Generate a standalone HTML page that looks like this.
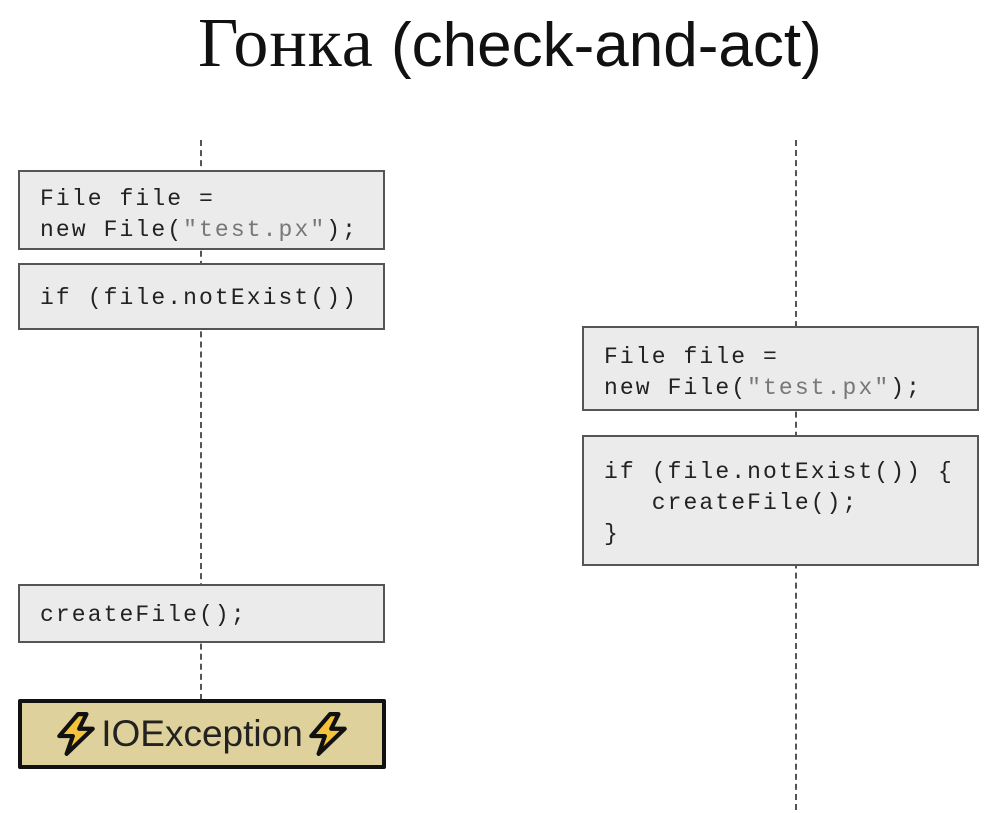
<!DOCTYPE html>
<html><head><meta charset="utf-8"><style>
body{margin:0;width:994px;height:813px;background:#fff;position:relative;overflow:hidden;font-family:"Liberation Mono",monospace}
.t{position:absolute;top:4px;left:198px;white-space:nowrap;color:#111}
.b{position:absolute;background:#ebebeb;border:2px solid #555;box-sizing:border-box;font-size:23px;letter-spacing:2.1px;line-height:31px;padding:12px 0 0 20px;white-space:pre;color:#222}
.s{color:#777}
.d{position:absolute;width:0;border-left:2px dashed #555}
.e{position:absolute;left:18px;top:699px;width:368px;height:70px;box-sizing:border-box;background:#dfd19b;border:4px solid #111;border-radius:2px;font-family:"Liberation Sans",sans-serif;font-size:37px;color:#222;display:flex;align-items:center;justify-content:center;gap:2px}
</style></head><body>
<div class="t"><span style="font-family:'Liberation Serif',serif;font-size:70px;letter-spacing:1px">Гонка</span><span style="font-family:'Liberation Sans',sans-serif;font-size:62px;letter-spacing:0px"> (check-and-act)</span></div>
<div class="d" style="left:200px;top:140px;height:560px"></div>
<div class="d" style="left:795px;top:140px;height:670px"></div>
<div class="b" style="left:18px;top:170px;width:367px;height:80px">File file =
new File(<span class="s">"test.px"</span>);</div>
<div class="b" style="left:18px;top:263px;width:367px;height:67px;padding-top:18px">if (file.notExist())</div>
<div class="b" style="left:18px;top:584px;width:367px;height:59px;padding-top:14px">createFile();</div>
<div class="b" style="left:582px;top:326px;width:397px;height:85px;padding-top:14px">File file =
new File(<span class="s">"test.px"</span>);</div>
<div class="b" style="left:582px;top:435px;width:397px;height:131px;padding-top:20px">if (file.notExist()) {
   createFile();
}</div>
<div class="e"><svg width="46" height="46" viewBox="0 0 40 44"><path d="M22 3 L4 24 H17 L11 41 L36 17 H23 L30 3 Z" fill="#f5c33b" stroke="#111" stroke-width="4" stroke-linejoin="round"/></svg><span>IOException</span><svg width="46" height="46" viewBox="0 0 40 44"><path d="M22 3 L4 24 H17 L11 41 L36 17 H23 L30 3 Z" fill="#f5c33b" stroke="#111" stroke-width="4" stroke-linejoin="round"/></svg></div>
</body></html>
